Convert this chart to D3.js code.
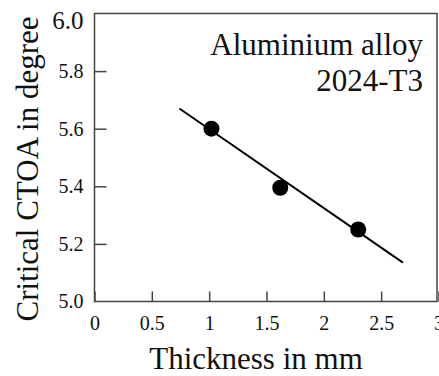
<!DOCTYPE html>
<html>
<head>
<meta charset="utf-8">
<script src="https://cdn.jsdelivr.net/npm/d3@7"></script>
<style>
  html, body { margin: 0; padding: 0; background: #fff; }
  svg { display: block; }
</style>
</head>
<body>
<svg id="chart" width="439" height="376"></svg>
<script>
// Measured critical CTOA for three sheet thicknesses
const thickness = [1.02, 1.62, 2.30];
const ctoa = [5.60, 5.395, 5.25];

// Linear trend line end points
const fitX = [0.74, 2.69];
const fitY = [5.67, 5.135];

const xTicks = [0, 0.5, 1, 1.5, 2, 2.5, 3];
const yTicks = [5.0, 5.2, 5.4, 5.6, 5.8, 6.0];

const annotation = ["Aluminium alloy", "2024-T3"];
const xTitle = "Thickness in mm";
const yTitle = "Critical CTOA in degree";

const SERIF = "'Liberation Serif', 'Times New Roman', serif";

const svg = d3.select("#chart");
const plotL = 94.5, plotR = 437, plotT = 13.5, plotB = 301.5;

const x = d3.scaleLinear().domain([0, 3]).range([plotL, 438.5]);
const y = d3.scaleLinear().domain([5.0, 6.0]).range([plotB, plotT]);

// Frame
svg.append("rect")
  .attr("x", plotL).attr("y", plotT)
  .attr("width", plotR - plotL).attr("height", plotB - plotT)
  .attr("fill", "none").attr("stroke", "#444").attr("stroke-width", 1.5);

// Bottom axis: inward ticks
const xAxis = d3.axisBottom(x).tickValues(xTicks).tickSize(-10).tickPadding(14)
  .tickFormat(d => d3.format("")(d));
const gx = svg.append("g").attr("transform", `translate(0,${plotB})`).call(xAxis)
  .attr("font-family", SERIF);
gx.select(".domain").remove();
gx.selectAll(".tick line").attr("stroke", "#444").attr("stroke-width", 1.5);
gx.selectAll(".tick text").attr("font-size", 20).attr("fill", "#111");

// Left axis: inward ticks
const yAxis = d3.axisLeft(y).tickValues(yTicks).tickSize(-12).tickPadding(11)
  .tickFormat(d3.format(".1f"));
const gy = svg.append("g").attr("transform", `translate(${plotL},0)`).call(yAxis)
  .attr("font-family", SERIF);
gy.select(".domain").remove();
gy.selectAll(".tick line").attr("stroke", "#444").attr("stroke-width", 1.5)
  .filter(d => d === 5.0 || d === 6.0).remove();
gy.selectAll(".tick text").attr("font-size", d => d === 6.0 ? 25 : 20)
  .attr("fill", "#111");
// top label sits just below the corner
gy.selectAll(".tick text").filter(d => d === 6.0).attr("dy", "0.6em");

// Trend line
svg.append("line")
  .attr("x1", x(fitX[0])).attr("y1", y(fitY[0]))
  .attr("x2", x(fitX[1])).attr("y2", y(fitY[1]))
  .attr("stroke", "#000").attr("stroke-width", 2);

// Data points
svg.selectAll("circle.pt").data(thickness).join("circle")
  .attr("class", "pt")
  .attr("cx", d => x(d)).attr("cy", (d, i) => y(ctoa[i]))
  .attr("r", 8).attr("fill", "#000");

const label = svg.append("g").attr("font-family", SERIF).attr("fill", "#111");

// Annotation
label.append("text").attr("x", 423).attr("y", 55).attr("text-anchor", "end")
  .attr("font-size", 31).text(annotation[0]);
label.append("text").attr("x", 423).attr("y", 91).attr("text-anchor", "end")
  .attr("font-size", 31).text(annotation[1]);

// Axis titles
label.append("text").attr("x", 256).attr("y", 369).attr("text-anchor", "middle")
  .attr("font-size", 31).text(xTitle);
label.append("text").attr("transform", "translate(38,169) rotate(-90)")
  .attr("text-anchor", "middle").attr("font-size", 31).text(yTitle);
</script>
</body>
</html>
